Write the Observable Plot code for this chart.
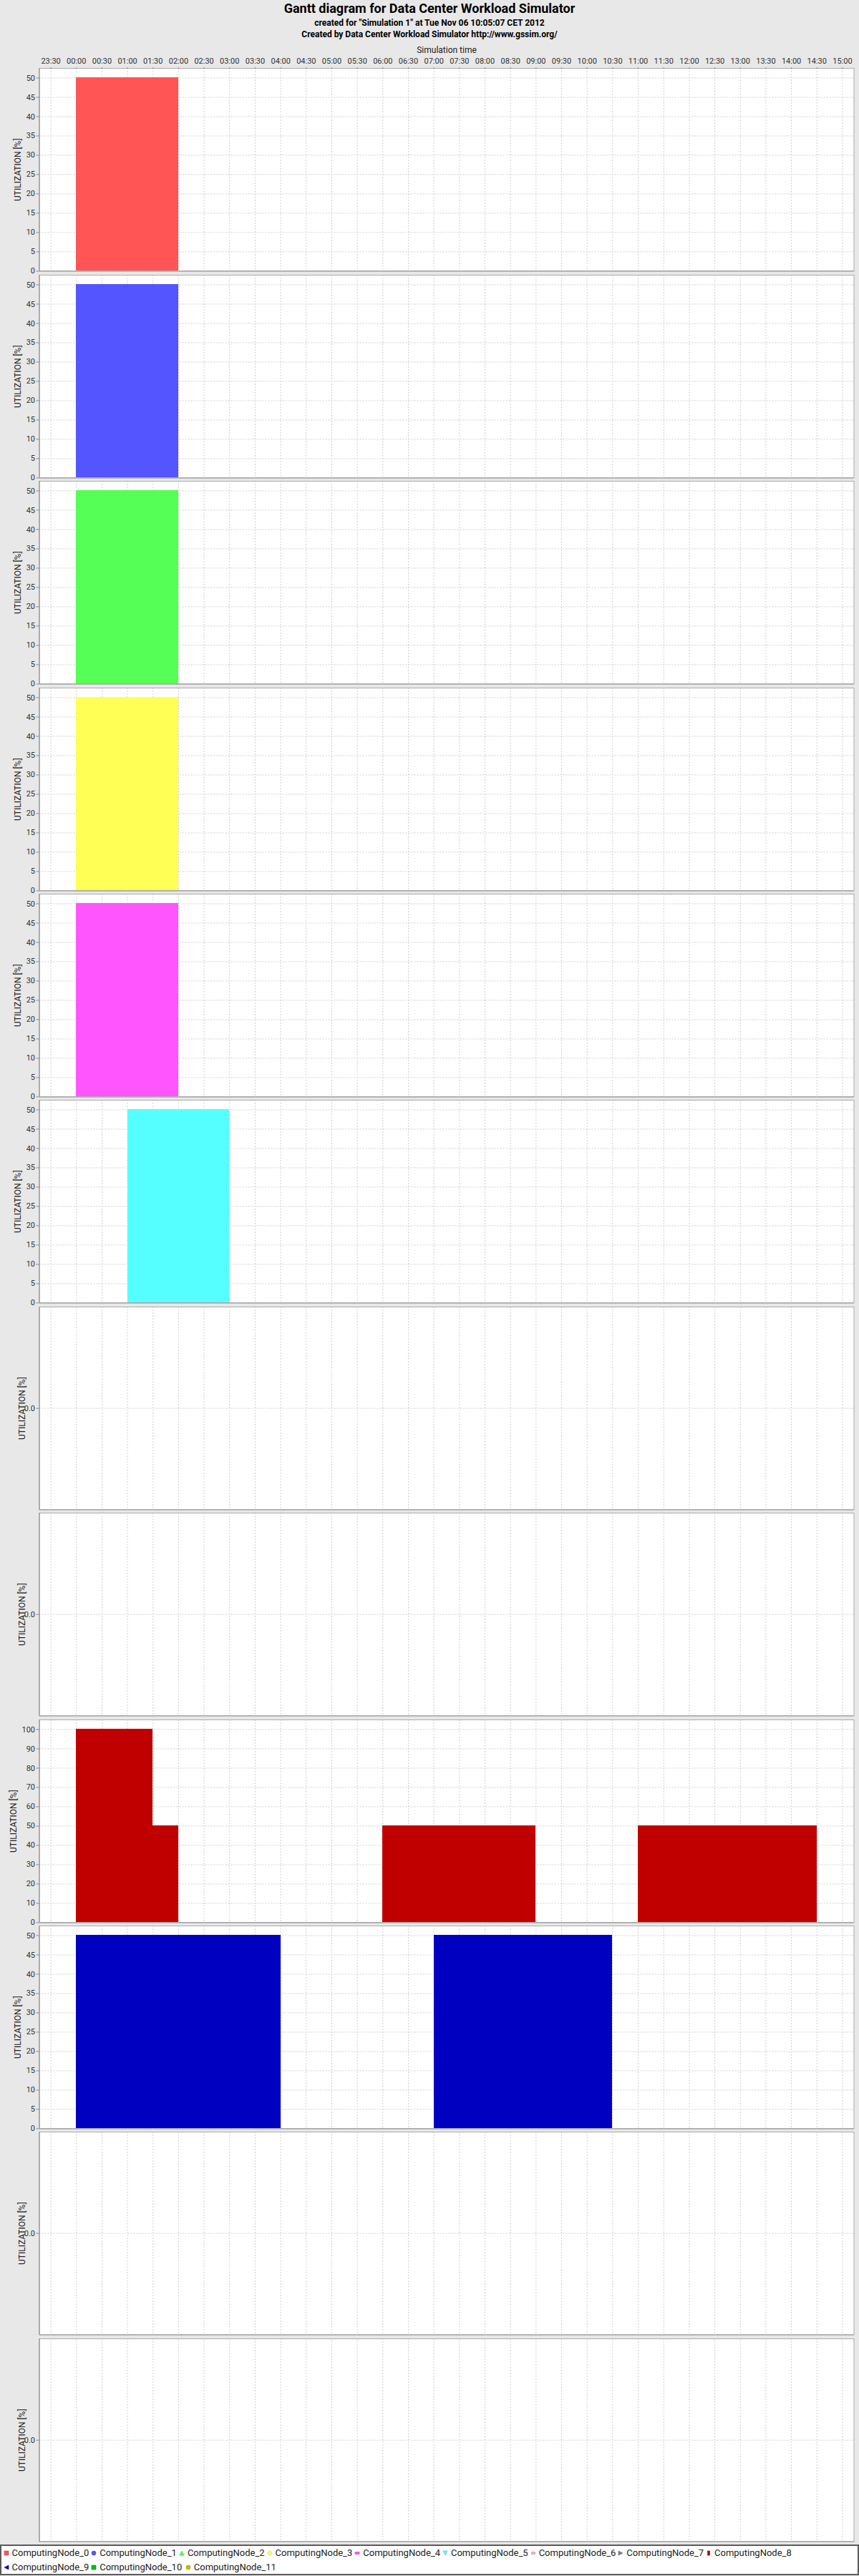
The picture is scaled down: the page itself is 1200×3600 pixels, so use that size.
<!DOCTYPE html>
<html>
<head>
<meta charset="utf-8">
<script src="https://cdn.jsdelivr.net/npm/d3@7"></script>
<script src="https://cdn.jsdelivr.net/npm/@observablehq/plot@0.6"></script>
<style>
html, body { margin: 0; padding: 0; background: #e8e8e8; }
#page { position: relative; width: 1200px; height: 3600px; background: #e8e8e8; overflow: hidden;
  font-family: Roboto, "DejaVu Sans", sans-serif; color: #000; }
.t { position: absolute; left: 0; width: 1200px; text-align: center; font-weight: bold; white-space: nowrap; }
.panel { position: absolute; left: 0; }
.panel svg { overflow: visible; display: block; }
#legend { position: absolute; left: 0; top: 3556px; width: 1200px; height: 43px; box-sizing: border-box;
  border: 2px solid #5a5a5a; background: #fff; padding: 0 0 0 2.5px; font-size: 13px; color: #222; }
.row { height: 20px; line-height: 20px; display: flex; align-items: center; white-space: nowrap; }
.item { display: inline-flex; align-items: center; flex: none; overflow: visible; }
</style>
</head>
<body>
<div id="page">
  <div class="t" style="top:3px;font-size:18px;line-height:18px;">Gantt diagram for Data Center Workload Simulator</div>
  <div class="t" style="top:26px;font-size:12px;line-height:12px;">created for "Simulation 1" at Tue Nov 06 10:05:07 CET 2012</div>
  <div class="t" style="top:41.6px;font-size:12px;line-height:12px;">Created by Data Center Workload Simulator http://www.gssim.org/</div>
  <div id="panels"></div>
  <div id="legend"></div>
</div>
<script>
// ---- data ----
const nodeNames = ["ComputingNode_0","ComputingNode_1","ComputingNode_2","ComputingNode_3","ComputingNode_4","ComputingNode_5",
                   "ComputingNode_6","ComputingNode_7","ComputingNode_8","ComputingNode_9","ComputingNode_10","ComputingNode_11"];
const nodeColors = ["#ff5555","#5555ff","#55ff55","#ffff55","#ff55ff","#55ffff",
                    "#ffafaf","#808080","#c00000","#0000c0","#00c000","#c0c000"];
const nodeShapes = ["square","circle","triangleUp","diamond","hrect","triangleDown",
                    "ellipse","triangleRight","vrect","triangleLeft","square","circle"];

// utilization segments (node index, start, end, utilization %)
const segNode  = [0, 1, 2, 3, 4, 5, 8, 8, 8, 8, 9, 9];
const segStart = ["00:00","00:00","00:00","00:00","00:00","01:00","00:00","01:30","06:00","11:00","00:00","07:00"];
const segEnd   = ["02:00","02:00","02:00","02:00","02:00","03:00","01:30","02:00","09:00","14:30","04:00","10:30"];
const segUtil  = [50, 50, 50, 50, 50, 50, 100, 50, 50, 50, 50, 50];

const xTickLabels = ["23:30","00:00","00:30","01:00","01:30","02:00","02:30","03:00","03:30","04:00","04:30","05:00",
  "05:30","06:00","06:30","07:00","07:30","08:00","08:30","09:00","09:30","10:00","10:30","11:00","11:30","12:00",
  "12:30","13:00","13:30","14:00","14:30","15:00"];
const yTicks50  = [0, 5, 10, 15, 20, 25, 30, 35, 40, 45, 50];
const yTicks100 = [0, 10, 20, 30, 40, 50, 60, 70, 80, 90, 100];
const yTicksEmpty = [0];
const xAxisTitle = "Simulation time";
const yAxisTitle = "UTILIZATION [%]";

// ---- helpers ----
const simEnd = "15:00";
function toDate(s) {
  const [h, m] = s.split(":").map(Number);
  return new Date(Date.UTC(2012, 10, 6, h, m));
}
function tickDate(s) {
  const d = toDate(s);
  if (d > toDate(simEnd)) d.setUTCDate(d.getUTCDate() - 1); // belongs to previous day
  return d;
}
const segments = segNode.map((n, i) => ({
  node: n, start: toDate(segStart[i]), end: toDate(segEnd[i]), util: segUtil[i]
}));
const xTicks = xTickLabels.map(tickDate);
const dataMin = d3.min(segments, d => d.start), dataMax = d3.max(segments, d => d.end);
const pad = (dataMax - dataMin) * 0.05;
const xDomain = [new Date(+dataMin - pad), new Date(+dataMax + pad)];

// ---- layout ----
const firstTop = 95.3, pitch = 288.4, PH = 283.4;
const ML = 54.5, MR = 7.5;
const gridStyle = {stroke: "#cfcfcf", strokeDasharray: "2,2", strokeWidth: 1, strokeOpacity: 1};

const container = document.getElementById("panels");
nodeNames.forEach((name, i) => {
  const segs = segments.filter(d => d.node === i);
  const maxU = d3.max(segs, d => d.util);
  const empty = segs.length === 0;
  const yDomain = empty ? [-1, 1] : [0, maxU * 1.05];
  const yTicks = empty ? yTicksEmpty : (maxU > 50 ? yTicks100 : yTicks50);
  const maxLen = d3.max(yTicks, t => String(t).length);
  const labelOff = 17.5 + 6 * maxLen;
  const first = i === 0;
  const mt = first ? 40 : 1, mb = 1;
  const frameTop = firstTop + pitch * i;
  const marks = [
    Plot.frame({fill: "white", stroke: "none"}),
    Plot.gridX(xTicks, gridStyle),
    Plot.gridY(yTicks, gridStyle),
    Plot.rectY(segs, {x1: "start", x2: "end", y1: 0, y2: "util", fill: nodeColors[i], shapeRendering: "crispEdges"}),
    Plot.frame({stroke: "#ababab"}),
    Plot.ruleX([xDomain[0]], {stroke: "#8a8a8a"}),
    Plot.ruleY([yDomain[0]], {stroke: "#9a9a9a"}),
    Plot.axisY(yTicks, {tickSize: 4, tickPadding: 2, fontSize: 11, label: null, stroke: "#8a8a8a", fill: "#333"}),
    Plot.text([yAxisTitle], {frameAnchor: "left", rotate: -90, dx: -labelOff, textAnchor: "middle",
      fontSize: 12, fill: "#222"})
  ];
  if (first) {
    marks.push(Plot.axisX(xTicks, {anchor: "top", tickFormat: "%H:%M", tickSize: 2, tickPadding: 4,
      fontSize: 11, label: null, stroke: "#8a8a8a", fill: "#333"}));
    marks.push(Plot.text([xAxisTitle], {frameAnchor: "top", dy: -25.6, lineAnchor: "middle",
      fontSize: 12, fill: "#222"}));
  }
  const chart = Plot.plot({
    width: 1200, height: mt + PH + mb,
    marginTop: mt, marginBottom: mb, marginLeft: ML, marginRight: MR,
    style: {background: "transparent", fontFamily: "Roboto, sans-serif", fontSize: "11px", overflow: "visible"},
    x: {type: "utc", domain: xDomain, axis: null},
    y: {domain: yDomain, axis: null},
    marks
  });
  const div = document.createElement("div");
  div.className = "panel";
  div.style.top = (frameTop - mt) + "px";
  div.appendChild(chart);
  container.appendChild(div);
});

// ---- legend ----
function shapePath(shape) {
  switch (shape) {
    case "square": return `<rect x="1" y="1" width="6" height="6"/>`;
    case "circle": return `<circle cx="4" cy="4" r="3"/>`;
    case "triangleUp": return `<path d="M4,1L7,7L1,7Z"/>`;
    case "diamond": return `<path d="M4,0.5L7.5,4L4,7.5L0.5,4Z"/>`;
    case "hrect": return `<rect x="1" y="2.5" width="6" height="3"/>`;
    case "triangleDown": return `<path d="M1,1L7,1L4,7Z"/>`;
    case "ellipse": return `<ellipse cx="4" cy="4" rx="3" ry="1.8"/>`;
    case "triangleRight": return `<path d="M1,1L7,4L1,7Z"/>`;
    case "vrect": return `<rect x="2.5" y="1" width="3" height="6"/>`;
    case "triangleLeft": return `<path d="M7,1L7,7L1,4Z"/>`;
  }
}
const legend = d3.select("#legend");
const rows = [d3.range(0, 9), d3.range(9, 12)];
rows.forEach(r => {
  const row = legend.append("div").attr("class", "row");
  r.forEach(i => {
    const c = d3.color(nodeColors[i]);
    const item = row.append("span").attr("class", "item")
      .style("width", (nodeNames[i].length > 15 ? 131.6 : 122.7) + "px");
    item.append("span").html(`<svg width="8" height="8" viewBox="0 0 8 8" style="display:block;margin-right:4px"><g fill="${nodeColors[i]}" stroke="${c.darker(0.8)}" stroke-width="0.6">${shapePath(nodeShapes[i])}</g></svg>`);
    item.append("span").text(nodeNames[i]);
  });
});
</script>
</body>
</html>
